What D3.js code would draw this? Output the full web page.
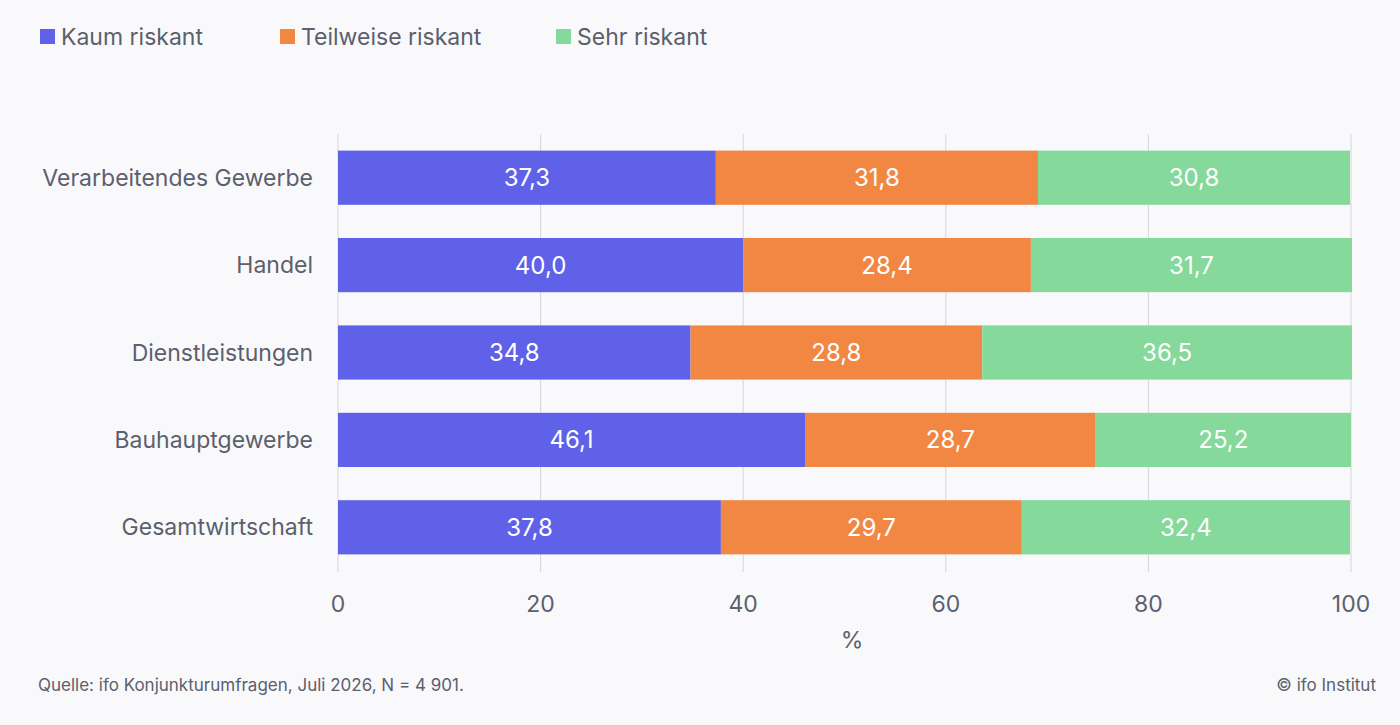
<!DOCTYPE html>
<html><head><meta charset="utf-8">
<script src="https://cdn.jsdelivr.net/npm/d3@7"></script>
<style>
body{margin:0;background:#f9f9fc;font-family:Inter,"Noto Sans",sans-serif;}
</style></head>
<body><svg width="1400" height="725"></svg>
<script>
var categories = ["Verarbeitendes Gewerbe", "Handel", "Dienstleistungen", "Bauhauptgewerbe", "Gesamtwirtschaft"];
var seriesNames = ["Kaum riskant", "Teilweise riskant", "Sehr riskant"];
var kaum = [37.3, 40.0, 34.8, 46.1, 37.8];
var teilweise = [31.8, 28.4, 28.8, 28.7, 29.7];
var sehr = [30.8, 31.7, 36.5, 25.2, 32.4];
var ticks = [0, 20, 40, 60, 80, 100];
var colors = ["#5f62e8", "#f28744", "#84d99b"];
var textColor = "#5b606c";

var svg = d3.select("svg");
svg.append("rect").attr("width", 1400).attr("height", 725).attr("fill", "#f9f9fc");

var x = d3.scaleLinear().domain([0, 100]).range([338, 1351]);
var y = d3.scaleBand().domain(categories).range([134, 571]).paddingInner(0.38).paddingOuter(0.19);

// grid
svg.selectAll("line.grid").data(ticks).enter().append("line")
    .attr("x1", function (d) { return x(d); }).attr("x2", function (d) { return x(d); })
    .attr("y1", 134).attr("y2", 572)
    .attr("stroke", "#d6d6da").attr("stroke-width", 1);

var rows = categories.map(function (c, i) { return { cat: c, values: [kaum[i], teilweise[i], sehr[i]] }; });
rows.forEach(function (r) {
    var start = 0;
    r.values.forEach(function (v, j) {
        svg.append("rect")
            .attr("x", x(start)).attr("width", x(start + v) - x(start))
            .attr("y", y(r.cat)).attr("height", y.bandwidth())
            .attr("fill", colors[j]);
        svg.append("text")
            .attr("x", x(start + v / 2)).attr("y", y(r.cat) + y.bandwidth() / 2)
            .attr("text-anchor", "middle").attr("dominant-baseline", "central")
            .attr("fill", "#fff").attr("font-size", 24)
            .text(v.toFixed(1).replace(".", ","));
        start += v;
    });
    svg.append("text")
        .attr("x", 313).attr("y", y(r.cat) + y.bandwidth() / 2)
        .attr("text-anchor", "end").attr("dominant-baseline", "central")
        .attr("fill", textColor).attr("font-size", 23).text(r.cat);
});

// x axis labels
svg.selectAll("text.tick").data(ticks).enter().append("text")
    .attr("x", function (d) { return x(d); }).attr("y", 612)
    .attr("text-anchor", "middle").attr("fill", textColor).attr("font-size", 23)
    .text(function (d) { return d; });
svg.append("text").attr("x", 852).attr("y", 648).attr("text-anchor", "middle")
    .attr("fill", textColor).attr("font-size", 23).text("%");

// legend
var legX = [40, 280, 556];
seriesNames.forEach(function (n, i) {
    svg.append("rect").attr("x", legX[i]).attr("y", 29).attr("width", 15).attr("height", 15).attr("fill", colors[i]);
    svg.append("text").attr("x", legX[i] + 21).attr("y", 37).attr("dominant-baseline", "central")
        .attr("fill", textColor).attr("font-size", 23).text(n);
});

svg.append("text").attr("x", 38).attr("y", 691).attr("fill", textColor).attr("font-size", 17)
    .text("Quelle: ifo Konjunkturumfragen, Juli 2026, N = 4 901.");
svg.append("text").attr("x", 1376).attr("y", 691).attr("text-anchor", "end").attr("fill", textColor).attr("font-size", 17)
    .text("© ifo Institut");
</script></body></html>
